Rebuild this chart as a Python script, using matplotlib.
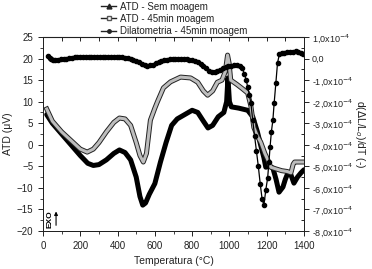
import numpy as np
import matplotlib
matplotlib.use('Agg')
import matplotlib.pyplot as plt
import matplotlib.patheffects as pe
from matplotlib.lines import Line2D
from matplotlib.ticker import MultipleLocator

plt.rcParams['font.family'] = ['Liberation Sans', 'DejaVu Sans']

# ATD - Sem moagem (left axis, uV)
t_sem = [20, 50, 100, 150, 200, 240, 270, 300, 340, 380, 410, 440, 470, 500, 520,
         535, 550, 570, 600, 630, 660, 690, 720, 760, 800, 830, 860, 885, 910, 940,
         970, 985, 992, 1000, 1010, 1050, 1098, 1125, 1150, 1170, 1185, 1195, 1215,
         1233, 1250, 1266, 1287, 1300, 1314, 1330, 1346, 1365, 1384, 1400]
atd_sem = [7, 5, 2.5, 0, -2.5, -4.3, -4.8, -4.6, -3.5, -2, -1.2, -1.8, -3.5, -7.5, -12,
           -14, -13.5, -11.5, -9, -4, 0.5, 4.5, 6, 7, 8, 7.5, 5.5, 3.9, 4.5, 6.5,
           7.5, 10, 15.5, 10, 8.8, 8.5, 8, 6.5, 3, -0.5, -3, -5.2, -5,
           -5.4, -8, -11, -9.8, -8, -6.5, -7, -8.9, -7.5, -6.5, -5.8]

# ATD - 45min moagem (left axis, uV)
t_45 = [20, 50, 100, 150, 200, 237, 270, 300, 340, 380, 410, 440, 470, 500, 520,
        538, 555, 576, 600, 614, 646, 684, 738, 792, 830, 860, 883, 910, 935, 960,
        978, 990, 998, 1007, 1040, 1070, 1098, 1115, 1131, 1150, 1168, 1190, 1206,
        1222, 1250, 1280, 1310, 1330, 1342, 1350, 1400]
atd_45 = [8.3, 5.5, 3, 1, -1, -1.7, -1, 0.5, 3, 5.2, 6.2, 6, 4.5, 0.5, -2.5,
          -4, -2, 5.7, 8.5, 10, 13.2, 14.6, 15.7, 15.5, 14.5, 12.5, 11.5, 12.5, 14.5, 15,
          17, 20.8, 19, 15, 14, 13, 12, 9, 4, 2, 0.6, -2, -3.5,
          -5.2, -5.6, -6, -6.2, -6.5, -4.5, -4, -4]

# Dilatometria - 45min moagem (right axis, x1e-4)
t_dil = [27, 35, 45, 55, 65, 80, 95, 110, 125, 140, 155, 170, 185, 200, 215, 230, 245,
         260, 275, 290, 305, 320, 335, 350, 365, 380, 395, 410, 425, 440, 455, 470, 485,
         500, 515, 530, 545, 560, 575, 590, 605, 620, 635, 650, 665, 680, 695, 710, 725,
         740, 755, 770, 785, 800, 815, 830, 845, 860, 875, 890, 905, 920, 935, 950, 965,
         980, 995, 1010, 1025, 1040, 1055, 1068, 1080, 1090, 1098, 1107, 1115, 1125,
         1135, 1145, 1155, 1165, 1175, 1185, 1195, 1205, 1212, 1218, 1225, 1233, 1240,
         1249, 1258, 1268, 1280, 1295, 1310, 1325, 1340, 1355, 1370, 1382, 1392]
dil = [0.12, 0.04, -0.04, -0.08, -0.08, -0.06, -0.04, -0.02, 0.0, 0.03, 0.04, 0.05,
       0.05, 0.05, 0.05, 0.05, 0.06, 0.06, 0.06, 0.07, 0.07, 0.08, 0.08, 0.08, 0.08,
       0.07, 0.07, 0.06, 0.05, 0.03, 0.01, -0.02, -0.05, -0.1, -0.16, -0.24, -0.32,
       -0.34, -0.32, -0.28, -0.22, -0.15, -0.1, -0.07, -0.05, -0.04, -0.03, -0.02,
       -0.02, -0.02, -0.02, -0.03, -0.05, -0.07, -0.1, -0.16, -0.24, -0.34, -0.46,
       -0.58, -0.64, -0.63, -0.58, -0.52, -0.46, -0.41, -0.36, -0.33, -0.31, -0.3,
       -0.34, -0.45, -0.7, -1.0, -1.32, -1.7, -2.06, -2.86, -3.6, -4.3, -5.0, -5.8,
       -6.5, -6.8, -6.1, -5.54, -4.8, -4.1, -3.4, -2.86, -2.06, -1.14, -0.2, 0.2,
       0.26, 0.28, 0.3, 0.31, 0.32, 0.33, 0.32, 0.28, 0.2]

right_ticks = [1, 0, -1, -2, -3, -4, -5, -6, -7, -8]
right_labels = ['1,0x10$^{-4}$' if v == 1 else ('0,0' if v == 0 else
                '%d,0x10$^{-4}$' % v) for v in right_ticks]

fig = plt.figure(figsize=(3.72, 2.69), dpi=100)
ax = fig.add_axes([43 / 372, 38 / 269, 261 / 372, 194 / 269])
ax2 = ax.twinx()

ax.plot(t_sem, atd_sem, color='black', lw=3.6, solid_capstyle='round', zorder=3)
ax.plot(t_45, atd_45, color='#bdbdbd', lw=2.2, zorder=4,
        path_effects=[pe.Stroke(linewidth=3.6, foreground='#222222'), pe.Normal()])
ax2.plot(np.array(t_dil), np.array(dil) * 1e-4, color='black', lw=0.9,
         marker='o', ms=3.0, mec='black', mfc='black')

ax.set_xlim(0, 1400)
ax.set_ylim(-20, 25)
ax2.set_ylim(-8e-4, 1e-4)

ax.xaxis.set_major_locator(MultipleLocator(200))
ax.xaxis.set_minor_locator(MultipleLocator(100))
ax.yaxis.set_major_locator(MultipleLocator(5))
ax.yaxis.set_minor_locator(MultipleLocator(2.5))
ax.tick_params(axis='both', which='major', labelsize=7, length=3.5, width=0.7,
               direction='out', colors='#222222')
ax.tick_params(axis='both', which='minor', length=2, width=0.6, direction='out',
               colors='#222222')

ax2.set_yticks(np.array(right_ticks) * 1e-4)
ax2.set_yticklabels(right_labels)
ax2.yaxis.set_minor_locator(MultipleLocator(0.5e-4))
ax2.tick_params(axis='y', which='major', labelsize=6.5, length=3.5, width=0.7,
                direction='out', colors='#222222', pad=2)
ax2.tick_params(axis='y', which='minor', length=2, width=0.6, direction='in')

# top ticks pointing inward
secx = ax.secondary_xaxis('top')
secx.xaxis.set_major_locator(MultipleLocator(100))
secx.tick_params(direction='in', length=3, width=0.6, labeltop=False)

for sp in list(ax.spines.values()) + list(ax2.spines.values()):
    sp.set_linewidth(0.7)
    sp.set_color('#222222')

ax.set_xlabel('Temperatura (°C)', fontsize=7.5, color='#222222', labelpad=4)
ax.set_ylabel('ATD (μV)', fontsize=7.5, color='#222222', labelpad=3)
ax2.set_ylabel(r'd($\Delta$L/L$_o$)/dT (-)', fontsize=7.5, color='#222222',
               rotation=270, labelpad=10)

# EXO marker
ax.text(0.012, 0.015, 'EXO', transform=ax.transAxes, rotation=90, fontsize=6,
        fontweight='bold', ha='left', va='bottom')
ax.annotate('', xy=(0.05, 0.115), xytext=(0.05, 0.015), xycoords='axes fraction',
            arrowprops=dict(arrowstyle='-|>', lw=0.8, color='black',
                            mutation_scale=5))

handles = [
    Line2D([], [], color='#222222', lw=1, marker='^', ms=3.5),
    Line2D([], [], color='#222222', lw=1, marker='s', ms=3, mfc='white',
           mec='#555555'),
    Line2D([], [], color='#222222', lw=1, marker='o', ms=2.5),
]
labels = ['ATD - Sem moagem', 'ATD - 45min moagem', 'Dilatometria - 45min moagem']
fig.legend(handles, labels, loc='upper left', bbox_to_anchor=(97 / 372, 1.008),
           frameon=False, fontsize=7, handlelength=1.6, handletextpad=0.4,
           labelspacing=0.22, borderaxespad=0, labelcolor='#222222')

fig.savefig('out.png', dpi=100)
